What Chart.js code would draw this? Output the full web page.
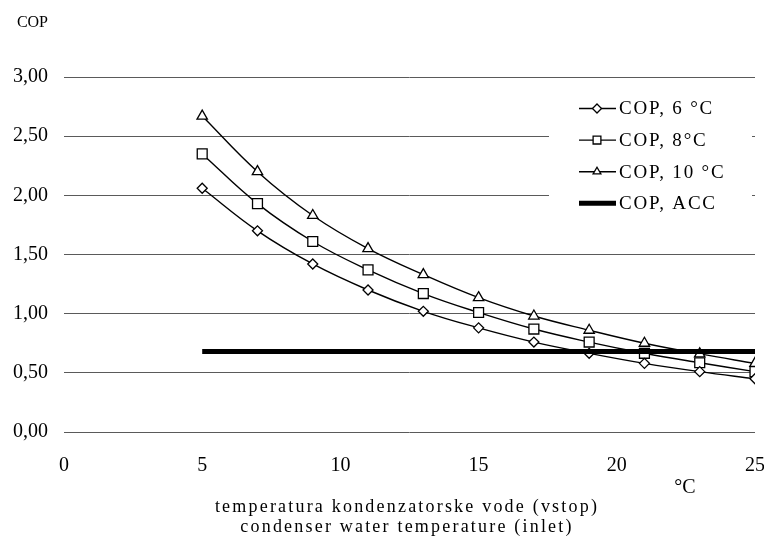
<!DOCTYPE html>
<html><head><meta charset="utf-8">
<script src="https://cdn.jsdelivr.net/npm/chart.js@4.4.0/dist/chart.umd.min.js"></script>
<style>html,body{margin:0;padding:0;background:#fff}#wrap{width:764px;height:540px;position:relative}</style>
</head><body><div id="wrap"><canvas id="c" width="764" height="540"></canvas></div>
<script>
// ---- data ----
const temps = [5, 7, 9, 11, 13, 15, 17, 19, 21, 23, 25];
const cop6  = [2.06, 1.70, 1.42, 1.20, 1.02, 0.88, 0.76, 0.665, 0.58, 0.51, 0.45];
const cop8  = [2.35, 1.93, 1.61, 1.37, 1.17, 1.01, 0.87, 0.76, 0.665, 0.585, 0.51];
const cop10 = [2.67, 2.20, 1.83, 1.55, 1.33, 1.135, 0.98, 0.86, 0.75, 0.66, 0.58];
const accX  = [5, 25];
const accY  = [0.68, 0.68];
const seriesLabels = ['COP, 6 °C', 'COP, 8°C', 'COP, 10 °C', 'COP, ACC'];
const yAxisTitle = 'COP';
const xUnit = '°C';
const xTitleLines = ['temperatura kondenzatorske vode (vstop)', 'condenser water temperature (inlet)'];

const FONT = "'Liberation Serif', 'Times New Roman', serif";
const pts = (xs, ys) => xs.map((x, i) => ({x: x, y: ys[i]}));

function marker(ctx, style, x, y, r) {
  ctx.beginPath();
  if (style === 'rectRot') {
    ctx.moveTo(x, y - r); ctx.lineTo(x + r, y); ctx.lineTo(x, y + r); ctx.lineTo(x - r, y); ctx.closePath();
  } else if (style === 'rect') {
    const s = r * Math.SQRT1_2; ctx.rect(x - s, y - s, 2 * s, 2 * s);
  } else if (style === 'triangle') {
    ctx.moveTo(x, y - r); ctx.lineTo(x + r * 0.866, y + r * 0.5); ctx.lineTo(x - r * 0.866, y + r * 0.5); ctx.closePath();
  }
  ctx.fill(); ctx.stroke();
}

const overlay = {
  id: 'overlay',
  afterDraw(chart) {
    const ctx = chart.ctx;
    ctx.save();
    // legend box inside plot
    ctx.fillStyle = '#fff';
    ctx.fillRect(549, 92, 203, 126);
    chart.data.datasets.forEach((ds, i) => {
      const y = 108.5 + i * 31.6;
      ctx.strokeStyle = '#000';
      ctx.lineWidth = ds.borderWidth;
      ctx.beginPath(); ctx.moveTo(579, y); ctx.lineTo(616, y); ctx.stroke();
      if (ds.pointRadius > 0) {
        ctx.fillStyle = '#fff'; ctx.lineWidth = 1.3;
        marker(ctx, ds.pointStyle, 597, y, ds.pointStyle === 'rect' ? 5.5 : 4.5);
      }
      ctx.fillStyle = '#000';
      ctx.font = '19px ' + FONT;
      ctx.letterSpacing = '1.8px';
      ctx.textAlign = 'left'; ctx.textBaseline = 'middle';
      ctx.fillText(ds.label, 619, y + 1);
      ctx.letterSpacing = '0px';
    });
    // axis titles
    ctx.fillStyle = '#000';
    ctx.textBaseline = 'middle';
    ctx.font = '16px ' + FONT;
    ctx.textAlign = 'right';
    ctx.fillText(yAxisTitle, 48, 23);
    ctx.font = '20px ' + FONT;
    ctx.textAlign = 'center';
    ctx.fillText(xUnit, 685, 488);
    ctx.font = '18px ' + FONT;
    ctx.letterSpacing = '2.2px';
    ctx.fillText(xTitleLines[0], 407, 507);
    ctx.fillText(xTitleLines[1], 407, 527);
    ctx.restore();
  }
};

new Chart(document.getElementById('c'), {
  type: 'line',
  data: {
    datasets: [
      {label: seriesLabels[0], data: pts(temps, cop6), borderColor: '#000', borderWidth: 1.4,
       pointStyle: 'rectRot', pointRadius: 5, pointBackgroundColor: '#fff', pointBorderColor: '#000', pointBorderWidth: 1.3, tension: 0.4},
      {label: seriesLabels[1], data: pts(temps, cop8), borderColor: '#000', borderWidth: 1.4,
       pointStyle: 'rect', pointRadius: 7, pointBackgroundColor: '#fff', pointBorderColor: '#000', pointBorderWidth: 1.3, tension: 0.4},
      {label: seriesLabels[2], data: pts(temps, cop10), borderColor: '#000', borderWidth: 1.4,
       pointStyle: 'triangle', pointRadius: 6, pointBackgroundColor: '#fff', pointBorderColor: '#000', pointBorderWidth: 1.3, tension: 0.4},
      {label: seriesLabels[3], data: pts(accX, accY), borderColor: '#000', borderWidth: 5,
       pointRadius: 0, order: -1}
    ]
  },
  options: {
    responsive: false,
    animation: false,
    layout: {padding: {top: 77, right: 9, left: 0, bottom: 0}},
    plugins: {legend: {display: false}, tooltip: {enabled: false}},
    scales: {
      x: {
        type: 'linear', min: 0, max: 25,
        ticks: {stepSize: 5, color: '#000', font: {family: FONT, size: 20}, padding: 22, maxRotation: 0},
        grid: {display: false, drawTicks: false},
        border: {display: false},
        afterFit: s => { s.height = 108; s.paddingRight = 0; s.paddingLeft = 0; }
      },
      y: {
        min: 0, max: 3,
        ticks: {stepSize: 0.5, color: '#000', font: {family: FONT, size: 20}, padding: 16,
                callback: v => v.toFixed(2).replace('.', ',')},
        grid: {color: '#5a5a5a', lineWidth: 1, drawTicks: false},
        border: {display: false},
        afterFit: s => { s.width = 64; }
      }
    }
  },
  plugins: [overlay]
});
</script>
</body></html>
